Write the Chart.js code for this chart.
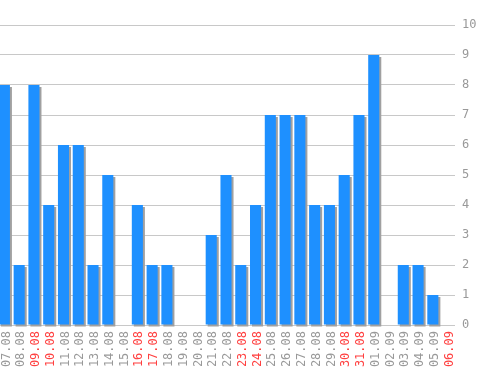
<!DOCTYPE html>
<html>
<head>
<meta charset="utf-8">
<script src="https://cdn.jsdelivr.net/npm/chart.js@4/dist/chart.umd.min.js"></script>
<style>
html,body{margin:0;padding:0;background:#fff;overflow:hidden;width:498px;height:370px;}
#wrap{position:absolute;left:-3px;top:0;width:501px;height:370px;}
</style>
</head>
<body>
<div id="wrap"><canvas id="c"></canvas></div>
<script>
const categories = ["07.08","08.08","09.08","10.08","11.08","12.08","13.08","14.08","15.08","16.08","17.08","18.08","19.08","20.08","21.08","22.08","23.08","24.08","25.08","26.08","27.08","28.08","29.08","30.08","31.08","01.09","02.09","03.09","04.09","05.09","06.09"];
const values = [8,2,8,4,6,6,2,5,0,4,2,2,0,0,3,5,2,4,7,7,7,4,4,5,7,9,0,2,2,1,0];
const weekendLabels = ["09.08","10.08","16.08","17.08","23.08","24.08","30.08","31.08","06.09"];
const yTicks = [0,1,2,3,4,5,6,7,8,9,10];

const shadowPlugin = {
  id: 'barShadow',
  beforeDatasetsDraw(chart) {
    const ctx = chart.ctx;
    ctx.save();
    ctx.shadowColor = '#a0a0a0';
    ctx.shadowOffsetX = 2;
    ctx.shadowOffsetY = 2;
    ctx.shadowBlur = 0;
  },
  afterDatasetsDraw(chart) {
    chart.ctx.restore();
  }
};

new Chart(document.getElementById('c'), {
  type: 'bar',
  data: {
    labels: categories,
    datasets: [{
      data: values,
      backgroundColor: '#1e90ff',
      borderWidth: 0,
      categoryPercentage: 1,
      barPercentage: 0.75,
      clip: false
    }]
  },
  options: {
    responsive: true,
    maintainAspectRatio: false,
    animation: false,
    layout: { padding: { top: 25, left: 0, right: 0, bottom: 0 } },
    plugins: { legend: { display: false }, tooltip: { enabled: false } },
    scales: {
      x: {
        grid: { display: false, drawTicks: false },
        border: { display: false },
        ticks: {
          autoSkip: false,
          maxRotation: 90,
          minRotation: 90,
          padding: 6,
          labelOffset: 2,
          font: { family: '"DejaVu Sans Mono", monospace', size: 12 },
          color: (c) => weekendLabels.includes(categories[c.index]) ? '#ff4040' : '#999999'
        },
        afterFit(scale) { scale.height = 45; }
      },
      y: {
        position: 'right',
        min: 0,
        max: 10,
        afterBuildTicks(scale) { scale.ticks = yTicks.map(v => ({ value: v })); },
        grid: { color: '#c8c8c8', lineWidth: 1, drawTicks: false },
        border: { display: false },
        ticks: {
          padding: 7,
          font: { family: '"DejaVu Sans Mono", monospace', size: 12 },
          color: '#999999'
        },
        afterFit(scale) { scale.width = 43; }
      }
    }
  },
  plugins: [shadowPlugin]
});
</script>
</body>
</html>
